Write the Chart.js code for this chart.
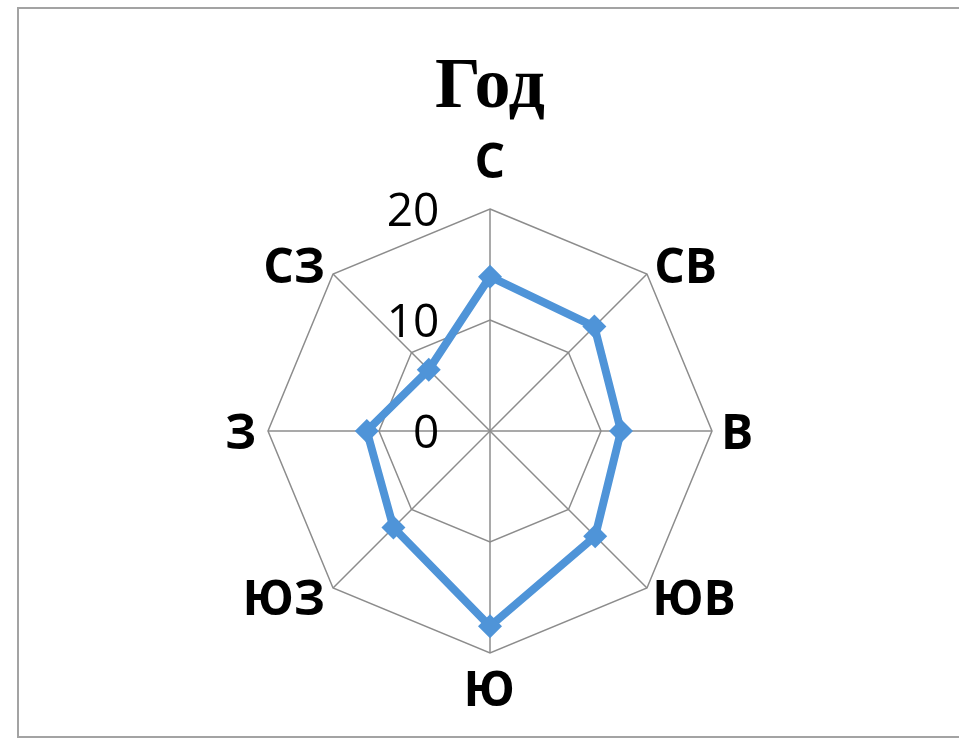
<!DOCTYPE html>
<html lang="ru">
<head>
  <meta charset="UTF-8" />
  <title>Год</title>
  <script src="https://cdn.jsdelivr.net/npm/chart.js"></script>
  <style>
    html, body {
      margin: 0;
      padding: 0;
      background: #fff;
      overflow: hidden;
    }

    .frame {
      position: absolute;
      left: 17px;
      top: 7px;
      width: 960px;
      height: 727px;
      border: 2px solid #a3a3a3;
    }

    .wrap {
      position: absolute;
      left: 0;
      top: 0;
      width: 959px;
      height: 738px;
    }
  </style>
</head>
<body>

  <div class="frame"></div>
  <div class="wrap">
    <canvas id="roseChart"></canvas>
  </div>

  <script>
    // directions and yearly values
    const directions = ["С", "СВ", "В", "ЮВ", "Ю", "ЮЗ", "З", "СЗ"];
    const yearValues = [13.9, 13.3, 11.8, 13.4, 17.6, 12.3, 11.1, 7.8];
    const tickStep = 10;
    const tickMax = 20;

    // tick labels left of the axis, direction labels next to the outer ring
    const roseLabels = {
      id: "roseLabels",
      beforeDatasetsDraw(chart) {
        const r = chart.scales.r;
        const ctx = chart.ctx;
        ctx.save();
        ctx.font = '46px "Open Sans"';
        ctx.fillStyle = "#000";
        ctx.textAlign = "right";
        ctx.textBaseline = "alphabetic";
        r.ticks.forEach(t => {
          const y = r.yCenter - r.getDistanceFromCenterForValue(t.value);
          const m = ctx.measureText(t.label);
          const mid = (m.actualBoundingBoxAscent - m.actualBoundingBoxDescent) / 2;
          ctx.fillText(t.label, r.xCenter - 53 - m.actualBoundingBoxRight, y + mid);
        });
        ctx.restore();
      },
      afterDraw(chart) {
        const r = chart.scales.r;
        const ctx = chart.ctx;
        ctx.save();
        ctx.font = 'bold 48px "Open Sans"';
        ctx.fillStyle = "#000";
        ctx.textAlign = "left";
        ctx.textBaseline = "alphabetic";
        chart.data.labels.forEach((label, i) => {
          const a = r.getIndexAngle(i);
          const dx = Math.sin(a);
          const dy = -Math.cos(a);
          let gap = 13;
          if (dy < -0.9) gap = 31;
          if (dy > 0.9) gap = 17;
          const p = r.getPointPosition(i, r.drawingArea + gap);
          const m = ctx.measureText(label);
          const w = m.actualBoundingBoxLeft + m.actualBoundingBoxRight;
          const h = m.actualBoundingBoxAscent + m.actualBoundingBoxDescent;
          let gx = p.x - w / 2;
          if (dx > 0.1) gx = p.x;
          if (dx < -0.1) gx = p.x - w;
          let gy = p.y - h / 2;
          if (dy < -0.9) gy = p.y - h;
          if (dy > 0.9) gy = p.y;
          ctx.fillText(label, gx + m.actualBoundingBoxLeft, gy + m.actualBoundingBoxAscent);
        });
        ctx.restore();
      }
    };

    new Chart(document.getElementById("roseChart").getContext("2d"), {
      type: "radar",
      data: {
        labels: directions,
        datasets: [{
          label: "Год",
          data: yearValues,
          borderColor: "#4f94d8",
          backgroundColor: "#4f94d8",
          borderWidth: 8,
          fill: false,
          pointStyle: "rectRot",
          pointRadius: 12,
          pointBorderWidth: 0,
          pointBackgroundColor: "#4f94d8",
          tension: 0
        }]
      },
      options: {
        responsive: true,
        maintainAspectRatio: false,
        animation: false,
        layout: {
          padding: { left: 21, right: 0, top: 0, bottom: 84 }
        },
        plugins: {
          legend: { display: false },
          tooltip: { enabled: false },
          title: {
            display: true,
            text: "Год",
            color: "#000",
            font: { family: "Liberation Serif", size: 72, weight: "bold", lineHeight: 1.2 },
            padding: { top: 45, bottom: 78 }
          }
        },
        scales: {
          r: {
            min: 0,
            max: tickMax,
            ticks: { stepSize: tickStep, display: false },
            pointLabels: { display: false },
            grid: { color: "#8c8c8c", lineWidth: 1.5 },
            angleLines: { color: "#8c8c8c", lineWidth: 1.5 }
          }
        }
      },
      plugins: [roseLabels]
    });
  </script>

</body>
</html>
